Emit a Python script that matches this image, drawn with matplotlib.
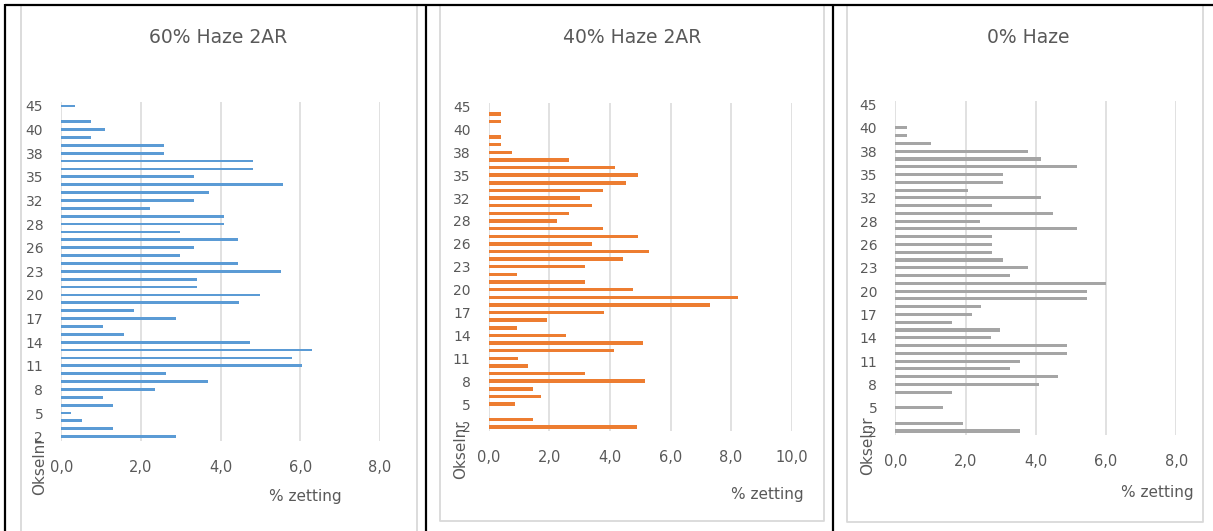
import numpy as np
import matplotlib
matplotlib.use('Agg')
import matplotlib.pyplot as plt
from matplotlib.lines import Line2D

nan = np.nan

# category axis (Okselnr), bottom to top - only every 3rd label is shown
okselnr = ['2', '3', '4', '5', '6', '7', '8', '9', '10', '11', '12', '13', '14', '15',
           '16', '17', '18', '19', '20', '21', '22', '23', '24', '25', '26', '27', '27',
           '28', '29', '31', '32', '33', '34', '35', '36', '37', '38', '39', '39', '40',
           '41', '43', '45']

# % zetting per okselnr
haze60 = [2.88, 1.29, 0.53, 0.24, 1.29, 1.04, 2.34, 3.67, 2.62, 6.03, 5.78, 6.29, 4.73,
          1.57, 1.04, 2.88, 1.83, 4.47, 4.98, 3.40, 3.40, 5.52, 4.44, 2.97, 3.33, 4.44,
          2.97, 4.08, 4.08, 2.22, 3.33, 3.70, 5.56, 3.33, 4.81, 4.81, 2.58, 2.58, 0.74,
          1.10, 0.74, nan, 0.35]
haze40 = [4.88, 1.45, nan, 0.87, 1.73, 1.45, 5.16, 3.18, 1.29, 0.96, 4.14, 5.08, 2.54,
          0.95, 1.92, 3.81, 7.30, 8.24, 4.76, 3.18, 0.95, 3.18, 4.43, 5.28, 3.41, 4.92,
          3.77, 2.27, 2.65, 3.41, 3.01, 3.77, 4.52, 4.92, 4.16, 2.65, 0.76, 0.40, 0.40,
          nan, 0.40, 0.40, nan]
haze0 = [3.54, 1.92, nan, 1.37, nan, 1.62, 4.08, 4.64, 3.27, 3.54, 4.90, 4.90, 2.72,
         2.99, 1.62, 2.17, 2.44, 5.45, 5.45, 5.99, 3.27, 3.78, 3.08, 2.75, 2.75, 2.75,
         5.16, 2.42, 4.48, 2.75, 4.14, 2.06, 3.08, 3.08, 5.16, 4.14, 3.78, 1.03, 0.34,
         0.34, nan, nan, nan]

titles = ['60% Haze 2AR', '40% Haze 2AR', '0% Haze']
x_ticks_8 = [0, 2, 4, 6, 8]
x_ticks_10 = [0, 2, 4, 6, 8, 10]

W, H = 1213, 531
GRID = '#D9D9D9'
TEXT = '#595959'
NARROW = ['Liberation Sans Narrow', 'DejaVu Sans']


def fx(x):
    return x / W


def fy(y):
    return 1 - y / H


def fig_line(fig, xs, ys, color, lw):
    fig.add_artist(Line2D([fx(v) for v in xs], [fy(v) for v in ys], color=color,
                          linewidth=lw, transform=fig.transFigure, solid_capstyle='butt'))


def draw_panel(fig, box, values, color, ticks, bar_h, title, title_x,
               oksel_xy, zetting_xy):
    left, right, top, bottom = box
    ax = fig.add_axes([fx(left), fy(bottom), (right - left) / W, (bottom - top) / H])
    pos = np.arange(len(okselnr))
    ax.barh(pos, np.array(values, dtype=float), height=bar_h, color=color)
    ax.set_xlim(ticks[0], ticks[-1])
    ax.set_ylim(-0.5, len(okselnr) - 0.5)

    ax.set_xticks(ticks)
    ax.set_xticklabels([('%.1f' % t).replace('.', ',') for t in ticks],
                       family=NARROW, fontsize=10.5, color=TEXT)
    ax.set_yticks(pos[::3])
    ax.set_yticklabels(okselnr[::3], fontsize=10, color=TEXT)
    ax.tick_params(axis='both', length=0)
    ax.tick_params(axis='x', pad=14)
    ax.tick_params(axis='y', pad=13)

    for s in ax.spines.values():
        s.set_visible(False)
    ax.grid(axis='x', color=GRID, linewidth=1.1)
    ax.set_axisbelow(True)

    fig.text(fx(title_x), fy(37), title, ha='center', va='center',
             fontsize=13.5, color=TEXT, family=NARROW)
    fig.text(fx(oksel_xy[0]), fy(oksel_xy[1]), 'Okselnr', rotation=90,
             ha='center', va='center', fontsize=11, color=TEXT)
    fig.text(fx(zetting_xy[0]), fy(zetting_xy[1]), '% zetting', ha='center',
             va='center', fontsize=11, color=TEXT, family=NARROW)
    return ax


fig = plt.figure(figsize=(W / 100, H / 100), dpi=100)
fig.patch.set_facecolor('white')

# grey chart-area borders (Excel style)
fig_line(fig, [21, 21], [6, 531], GRID, 1.3)
fig_line(fig, [417, 417], [6, 531], GRID, 1.3)
fig_line(fig, [440, 440, 824, 824], [6, 521, 521, 6], GRID, 1.3)
fig_line(fig, [847, 847, 1203, 1203], [6, 522, 522, 6], GRID, 1.3)

draw_panel(fig, (61.3, 380, 102, 440.6), haze60, '#5B9BD5', x_ticks_8, 0.36,
           titles[0], 218, (40, 466), (305, 496))
draw_panel(fig, (488.7, 791.7, 102.7, 430.8), haze40, '#ED7D31', x_ticks_10, 0.45,
           titles[1], 632, (461, 450), (767, 494))
draw_panel(fig, (895.3, 1176.3, 100.7, 434.9), haze0, '#A5A5A5', x_ticks_8, 0.40,
           titles[2], 1028, (868, 446), (1157, 493))

# black table frame around the three charts
fig_line(fig, [5, 1213], [5, 5], 'black', 1.6)
for xv in [5, 425.7, 833.3]:
    fig_line(fig, [xv, xv], [4, 531], 'black', 1.6)

plt.savefig('out.png', dpi=100)
